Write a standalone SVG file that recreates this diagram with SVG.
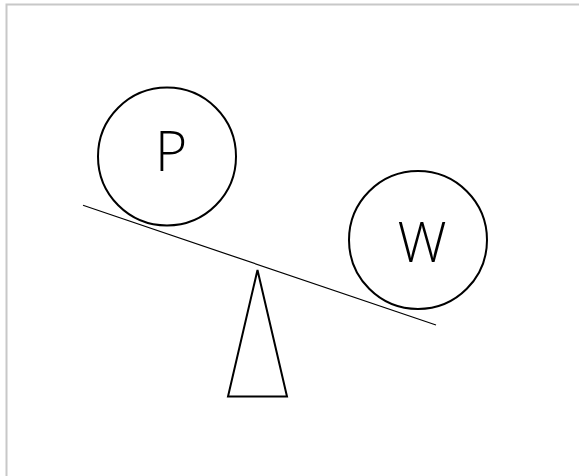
<svg xmlns="http://www.w3.org/2000/svg" width="579" height="476" viewBox="0 0 579 476">
<style>
.c{fill:#fff;stroke:#000;stroke-width:2}
.t{font-family:"Open Sans","Liberation Sans",sans-serif;font-weight:300;font-size:55px;fill:#000;text-anchor:middle}
</style>
<rect width="579" height="476" fill="#fff"/>
<path d="M6.5,476 V4.5 H579" fill="none" stroke="#c8c8c8" stroke-width="2"/>
<g id="connectors">
<line x1="83" y1="205.3" x2="436" y2="325" stroke="#000" stroke-width="1.2"/>
</g>
<g id="P">
<circle class="c" cx="167" cy="156.5" r="69"/>
<text class="t" x="171" y="171">P</text>
</g>
<g id="W">
<circle class="c" cx="418" cy="240" r="69"/>
<text class="t" x="422" y="262">W</text>
</g>
<g id="fulcrum">
<polygon points="257.5,270 228,396.5 287,396.5" fill="none" stroke="#000" stroke-width="2"/>
</g>
</svg>
